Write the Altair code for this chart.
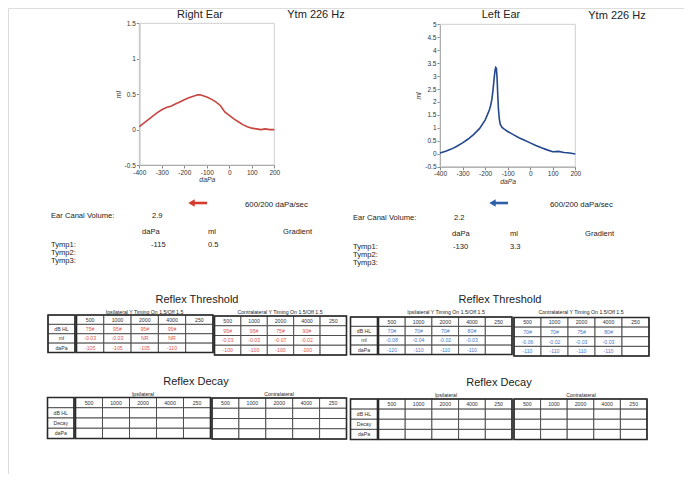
import altair as alt
import pandas as pd

FONT = "Liberation Sans"
W, H = 676, 466

# ---------------- data ----------------
right_dapa = [-400, -380, -360, -340, -320, -300, -280, -260, -240, -220, -200, -180, -160,
              -140, -130, -120, -100, -80, -60, -40, -20, 0, 20, 40, 60, 80, 100, 120, 140,
              160, 180, 200]
right_ml = [0.04, 0.09, 0.14, 0.19, 0.24, 0.28, 0.31, 0.33, 0.36, 0.39, 0.42, 0.45, 0.47,
            0.49, 0.49, 0.48, 0.46, 0.43, 0.39, 0.34, 0.25, 0.20, 0.15, 0.11, 0.07, 0.04, 0.02,
            0.01, 0.00, 0.01, 0.00, 0.00]

left_dapa = [-400, -375, -350, -325, -300, -275, -250, -225, -200, -190, -180, -175, -170,
             -165, -160, -156, -153, -150, -147, -144, -141, -137, -133, -125, -115, -100,
             -75, -50, -25, 0, 25, 50, 75, 100, 125, 150, 175, 200]
left_ml = [0.03, 0.10, 0.18, 0.29, 0.42, 0.57, 0.75, 0.97, 1.30, 1.50, 1.72, 1.88, 2.10,
           2.45, 2.90, 3.22, 3.33, 3.30, 2.95, 2.30, 1.75, 1.35, 1.14, 1.02, 0.95, 0.86,
           0.74, 0.62, 0.52, 0.42, 0.32, 0.23, 0.15, 0.08, 0.09, 0.05, 0.03, -0.01]

x_ticks = [-400, -300, -200, -100, 0, 100, 200]
right_y_ticks = [-0.5, 0, 0.5, 1, 1.5]
left_y_ticks = [-0.5, 0, 0.5, 1, 1.5, 2, 2.5, 3, 3.5, 4, 4.5, 5]

ecv_values = ["2.9", "2.2"]
tymp1_dapa = ["-115", "-130"]
tymp1_ml = ["0.5", "3.3"]

freqs = ["500", "1000", "2000", "4000", "250"]
thr_row_labels = ["", "dB HL", "ml", "daPa"]
decay_row_labels = ["", "dB HL", "Decay", "daPa"]

r_ipsi_dbhl = ["75#", "95#", "95#", "95#", ""]
r_ipsi_ml = ["-0.03", "-0.03", "NR", "NR", ""]
r_ipsi_dapa = ["-105", "-105", "-105", "-110", ""]
r_con_dbhl = ["95#", "95#", "75#", "90#", ""]
r_con_ml = ["-0.03", "-0.03", "-0.07", "-0.02", ""]
r_con_dapa = ["-100", "-100", "-100", "-100", ""]

l_ipsi_dbhl = ["70#", "70#", "70#", "80#", ""]
l_ipsi_ml = ["-0.08", "-0.04", "-0.02", "-0.03", ""]
l_ipsi_dapa = ["-120", "-110", "-110", "-110", ""]
l_con_dbhl = ["70#", "70#", "75#", "80#", ""]
l_con_ml = ["-0.06", "-0.02", "-0.03", "-0.03", ""]
l_con_dapa = ["-110", "-110", "-110", "-110", ""]

empty_row = ["", "", "", "", ""]

RED = "#c8453f"
RED_TXT = "#e0574f"
BLUE = "#24478f"
BLUE_TXT = "#4a7cc9"
ARROW_RED = "#d8392c"
ARROW_BLUE = "#2d5fa8"

# ---------------- helpers ----------------
one = alt.Data(values=[{"k": 1}])


def P(v):
    return v - 8


def txt(s, x, y, size=7.0, color="#222", align="left", style="normal"):
    return alt.Chart(one).mark_text(
        text=s, fontSize=size, color=color, align=align, baseline="middle",
        font=FONT, fontStyle=style
    ).encode(x=alt.value(P(x)), y=alt.value(P(y)))


def arrow(x0, x1, y, color):
    shaft = alt.Chart(one).mark_rule(color=color, strokeWidth=2.6).encode(
        x=alt.value(P(x0 + 3)), x2=alt.value(P(x1)), y=alt.value(P(y)))
    head = alt.Chart(one).mark_point(shape="triangle-left", filled=True, color=color,
                                     size=55, opacity=1).encode(
        x=alt.value(P(x0 + 3.5)), y=alt.value(P(y)))
    return [shaft, head]


def tymp(dapa, ml, color, x0, x1, ybot, ytop, ydom, yticks):
    xr = [P(x0), P(x1)]
    yr = [P(ybot), P(ytop)]
    xs = alt.Scale(domain=[-400, 200], range=xr, nice=False, zero=False)
    ys = alt.Scale(domain=ydom, range=yr, nice=False, zero=False)
    common = dict(labelFontSize=6.5, labelColor="#333", labelFont=FONT, tickSize=3,
                  tickColor="#888", domainColor="#8a8a8a", grid=False, labelOverlap=False,
                  titleFont=FONT, titleFontSize=6.8, titleFontWeight="normal",
                  titleFontStyle="italic", titleColor="#333",
                  labelExpr="datum.value + ''")
    xaxis = alt.Axis(orient="bottom", offset=yr[0] - H, values=x_ticks, title="daPa",
                     labelFlush=False, labelPadding=1, titlePadding=1, **common)
    yaxis = alt.Axis(orient="left", offset=-xr[0], values=yticks, title="ml",
                     labelPadding=1, titlePadding=3, **common)
    frame_df = pd.DataFrame({"x0": [-400], "x1": [200], "y0": [ydom[0]], "y1": [ydom[1]]})
    frame = alt.Chart(frame_df).mark_rect(fill="transparent", stroke="#cfcfcf",
                                          strokeWidth=1).encode(
        x=alt.X("x0:Q", scale=xs, axis=xaxis), x2="x1:Q",
        y=alt.Y("y0:Q", scale=ys, axis=yaxis), y2="y1:Q")
    line = alt.Chart(pd.DataFrame({"daPa": dapa, "ml": ml})).mark_line(
        color=color, strokeWidth=1.6).encode(
        x=alt.X("daPa:Q", scale=xs, axis=None),
        y=alt.Y("ml:Q", scale=ys, axis=None))
    return [frame, line]


def table(col_keys, rows, kinds, x0, x1, y0, y1, color):
    row_keys = ["r%d" % i for i in range(len(rows))]
    recs = []
    for ri, r in enumerate(rows):
        for ci, c in enumerate(col_keys):
            recs.append({"col": c, "row": row_keys[ri], "text": r[ci], "kind": kinds[ri]})
    df = pd.DataFrame(recs)
    bx = alt.Scale(type="band", domain=col_keys, range=[P(x0), P(x1)],
                   paddingInner=0, paddingOuter=0)
    by = alt.Scale(type="band", domain=row_keys, range=[P(y0), P(y1)],
                   paddingInner=0, paddingOuter=0)
    px = alt.Scale(type="point", domain=col_keys, range=[P(x0), P(x1)], padding=0.5)
    py = alt.Scale(type="point", domain=row_keys, range=[P(y0), P(y1)], padding=0.5)
    cells = alt.Chart(df).mark_rect(fill="white", stroke="#444", strokeWidth=0.9).encode(
        x=alt.X("col:N", scale=bx, axis=None),
        y=alt.Y("row:N", scale=by, axis=None))
    texts = alt.Chart(df).mark_text(fontSize=5.2, font=FONT, baseline="middle").encode(
        x=alt.X("col:N", scale=px, axis=None),
        y=alt.Y("row:N", scale=py, axis=None),
        text="text:N",
        color=alt.Color("kind:N", scale=alt.Scale(domain=["hdr", "val"],
                                                  range=["#333", color]), legend=None))
    frame = alt.Chart(one).mark_rect(fill="transparent", stroke="#2a2a2a",
                                     strokeWidth=1.6).encode(
        x=alt.value(P(x0)), x2=alt.value(P(x1)), y=alt.value(P(y0)), y2=alt.value(P(y1)))
    return [cells, texts, frame]


layers = []

# ---------------- top titles & tympanograms ----------------
layers += [txt("Right Ear", 200, 14.5, 11, align="center"),
           txt("Ytm 226 Hz", 316, 15, 11, align="center"),
           txt("Left Ear", 501, 15, 11, align="center"),
           txt("Ytm 226 Hz", 617, 15.5, 11, align="center")]
layers += tymp(right_dapa, right_ml, RED, 139.3, 274.3, 165, 23.3, [-0.5, 1.5], right_y_ticks)
layers += tymp(left_dapa, left_ml, BLUE, 440, 575.3, 166.7, 24.3, [-0.5, 5], left_y_ticks)

# ---------------- tympanometry info ----------------
layers += arrow(188, 207, 203, ARROW_RED)
layers += arrow(489, 508, 203, ARROW_BLUE)
for (xo, yo, i) in [(0, 0, 0), (302, 2, 1)]:
    layers += [
        txt("600/200 daPa/sec", 245 + xo + (3 if i else 0), 205, 7.8),
        txt("Ear Canal Volume:", 51 + xo, 216 + yo, 7.6),
        txt(ecv_values[i], 152 + xo, 216 + yo, 7.6),
        txt("daPa", 142 + xo + (8 if i else 0), 233 + yo - 1, 7.6),
        txt("ml", 207 + xo + 1, 233 + yo - 1, 7.6),
        txt("Gradient", 283 + xo, 233 + yo - 1, 7.6),
        txt("Tymp1:", 51 + xo, 244 + yo + 1, 7.6),
        txt(tymp1_dapa[i], 143 + xo + 8, 244 + yo + 1, 7.6),
        txt(tymp1_ml[i], 207 + xo + 1, 244 + yo + 1, 7.6),
        txt("Tymp2:", 51 + xo, 252 + yo + 1, 7.6),
        txt("Tymp3:", 51 + xo, 261 + yo, 7.6),
    ]

# ---------------- reflex threshold ----------------
layers += [txt("Reflex Threshold", 197, 300, 11, align="center"),
           txt("Reflex Threshold", 500, 300, 11, align="center"),
           txt("Ipsilateral Y Timing On 1.5/Off 1.5", 144.5, 311.5, 5.2, align="center"),
           txt("Contralateral Y Timing On 1.5/Off 1.5", 280, 311.5, 5.2, align="center"),
           txt("Ipsilateral Y Timing On 1.5/Off 1.5", 446, 312, 5.2, align="center"),
           txt("Contralateral Y Timing On 1.5/Off 1.5", 581, 312, 5.2, align="center")]

kinds_lbl = ["hdr", "hdr", "hdr", "hdr"]
kinds_val = ["hdr", "val", "val", "val"]
lbl_col = [[s] for s in thr_row_labels]
layers += table(["lbl"], lbl_col, kinds_lbl, 48, 75, 315, 352.5, "#333")
layers += table(freqs, [freqs, r_ipsi_dbhl, r_ipsi_ml, r_ipsi_dapa], kinds_val,
                76.5, 213, 315, 352.5, RED_TXT)
layers += table(freqs, [freqs, r_con_dbhl, r_con_ml, r_con_dapa], kinds_val,
                214.5, 346.5, 316, 355, RED_TXT)
layers += table(["lbl"], lbl_col, kinds_lbl, 350.5, 377.5, 317, 354.5, "#333")
layers += table(freqs, [freqs, l_ipsi_dbhl, l_ipsi_ml, l_ipsi_dapa], kinds_val,
                378.5, 512, 317, 354.5, BLUE_TXT)
layers += table(freqs, [freqs, l_con_dbhl, l_con_ml, l_con_dapa], kinds_val,
                514, 649, 317.5, 356, BLUE_TXT)

# ---------------- reflex decay ----------------
layers += [txt("Reflex Decay", 196, 382, 11, align="center"),
           txt("Reflex Decay", 499, 383, 11, align="center"),
           txt("Ipsilateral", 143, 394, 5.2, align="center"),
           txt("Contralateral", 279, 394, 5.2, align="center"),
           txt("Ipsilateral", 446, 394.5, 5.2, align="center"),
           txt("Contralateral", 581, 394.5, 5.2, align="center")]
dlbl_col = [[s] for s in decay_row_labels]
layers += table(["lbl"], dlbl_col, kinds_lbl, 47.5, 74, 397.5, 438.5, "#333")
layers += table(freqs, [freqs, empty_row, empty_row, empty_row], kinds_val,
                75.5, 210.5, 397.5, 438.5, RED_TXT)
layers += table(freqs, [freqs, empty_row, empty_row, empty_row], kinds_val,
                212, 346.5, 398, 439, RED_TXT)
layers += table(["lbl"], dlbl_col, kinds_lbl, 350.5, 377.5, 399, 439.5, "#333")
layers += table(freqs, [freqs, empty_row, empty_row, empty_row], kinds_val,
                378.5, 512, 399, 439.5, BLUE_TXT)
layers += table(freqs, [freqs, empty_row, empty_row, empty_row], kinds_val,
                514, 647, 399, 439.5, BLUE_TXT)

chart = alt.layer(*layers).resolve_scale(
    x="independent", y="independent", color="independent"
).properties(
    width=W, height=H, padding=0,
    autosize=alt.AutoSizeParams(type="none"),
    background="white"
).configure_view(
    stroke="transparent", strokeWidth=0, strokeOpacity=0
).configure(font=FONT)

chart.save("out.html", embed_options={"renderer": "svg", "actions": False})
